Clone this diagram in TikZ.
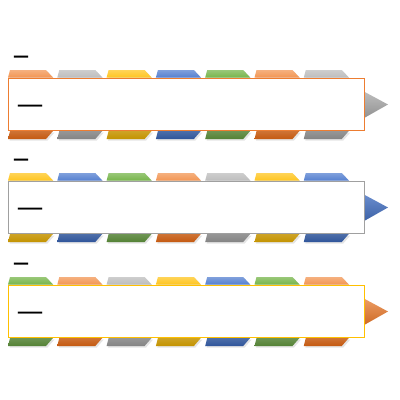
\documentclass[tikz,border=0pt]{standalone}
\usepackage{fontspec}
\newfontfamily\dashfont{DejaVu Sans}
\definecolor{Ol}{HTML}{F29654}\definecolor{Od}{HTML}{C55A11}
\definecolor{Gl}{HTML}{BDBDBD}\definecolor{Gd}{HTML}{848484}
\definecolor{Yl}{HTML}{FFC520}\definecolor{Yd}{HTML}{C49300}
\definecolor{Bl}{HTML}{5580D0}\definecolor{Bd}{HTML}{2F559A}
\definecolor{Nl}{HTML}{77B54B}\definecolor{Nd}{HTML}{548235}
\definecolor{O}{HTML}{ED7D31}\definecolor{G}{HTML}{A0A0A0}
\definecolor{Y}{HTML}{FFC000}\definecolor{B}{HTML}{4472C4}
\tikzset{
  rowbox/.style={draw=#1, line width=1.2pt, fill=white, minimum width=356pt,
    minimum height=52pt, anchor=north west, inner sep=0pt},
  dashtext/.style={inner sep=0pt, anchor=base west}
}
\newcommand\fishrow[5]{%
  \begin{scope}[yshift=-#1pt]
    \shade[top color=#4l!80!white, bottom color=#4d] (350,84) -- (388,104.5) -- (350,126) -- cycle;
    \foreach \col [count=\i from 0] in {#5} {
      \pgfmathsetmacro\xx{8+49.3*\i}
      \fill[black!10] (\xx+3.5,71.5) -- (\xx+39.5,71.5) -- (\xx+46.5,79) -- (\xx+1.5,79) -- cycle;
      \shade[top color=\col l!75!white, bottom color=\col l] (\xx+2,70) -- (\xx+38,70) -- (\xx+45,77.5) -- (\xx,77.5) -- cycle;
      \fill[black!10] (\xx+3.5,132.5) -- (\xx+46.5,132.5) -- (\xx+39.5,140.5) -- (\xx+1.5,140.5) -- cycle;
      \shade[top color=\col d!85!white, bottom color=\col d] (\xx+2,131) -- (\xx+45,131) -- (\xx+38,139) -- (\xx,139) -- cycle;
    }
    \node[rowbox=#3] (#2box) at (8,78) {};
    \node[dashtext] (#2in) at (16.5,113) {\dashfont\fontsize{27}{27}\selectfont\textemdash};
    \node[dashtext] (#2hd) at (13,61) {\dashfont\bfseries\fontsize{16}{16}\selectfont\textemdash};
  \end{scope}}
\begin{document}
\begin{tikzpicture}[x=1pt,y=-1pt]
\useasboundingbox (0,0) rectangle (400,400);
\fishrow{0}{ra}{O}{G}{O,G,Y,B,N,O,G}
\fishrow{103}{rb}{G}{B}{Y,B,N,O,G,Y,B}
\fishrow{207}{rc}{Y}{O}{N,O,G,Y,B,N,O}
\end{tikzpicture}
\end{document}
